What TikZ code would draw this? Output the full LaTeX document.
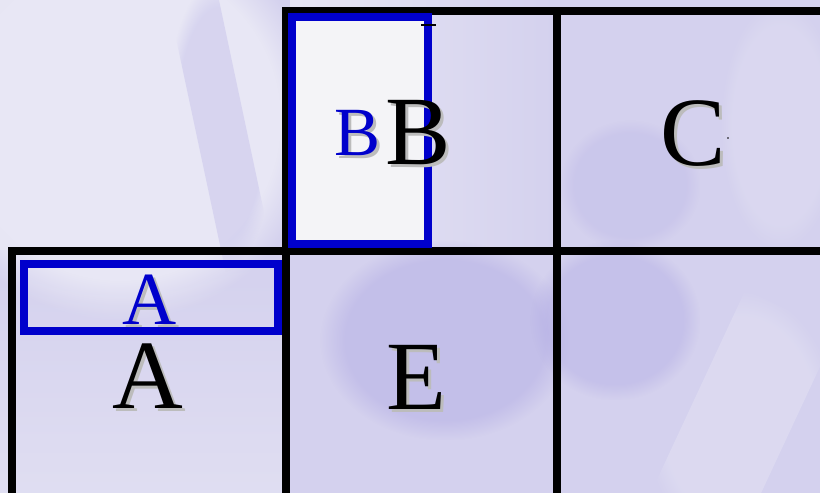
\documentclass[tikz,border=0pt]{standalone}
\usepackage{fontspec}
\setmainfont{Liberation Serif}
\usetikzlibrary{fadings}
\definecolor{bgbase}{RGB}{212,209,238}
\definecolor{bglight}{RGB}{232,231,245}
\definecolor{bgwhite}{RGB}{244,244,247}
\definecolor{bgdark}{RGB}{176,170,228}
\definecolor{bluec}{RGB}{0,0,204}
\definecolor{shadowgray}{RGB}{188,188,188}
\tikzset{
  gridline/.style={line width=7.5pt, black},
  bluebox/.style={draw=bluec, line width=8pt},
  bigletter/.style={inner sep=0pt, font=\fontsize{98}{98}\selectfont},
  blueletterB/.style={inner sep=0pt, font=\fontsize{69}{69}\selectfont, text=bluec},
  blueletterA/.style={inner sep=0pt, font=\fontsize{75}{75}\selectfont, text=bluec},
  shadowB/.style={inner sep=0pt, font=\fontsize{69}{69}\selectfont, text=shadowgray},
  shadowA/.style={inner sep=0pt, font=\fontsize{75}{75}\selectfont, text=shadowgray},
  shadowbig/.style={inner sep=0pt, font=\fontsize{98}{98}\selectfont, text=shadowgray},
  blob/.style={path fading=circle with fuzzy edge 20 percent},
}
\begin{document}
\begin{tikzpicture}[x=1pt,y=-1pt]
\useasboundingbox (0,0) rectangle (820,493);
% background
\fill[bgbase] (0,0) rectangle (820,493);
\fill[bglight, blob] (-80,-80) rectangle (320,320);
\fill[bglight, path fading=east] (0,0) rectangle (200,250);
\fill[bgdark, opacity=0.3, blob, rotate around={12:(220,125)}] (195,-20) rectangle (245,270);
\fill[bglight, path fading=east] (290,0) rectangle (560,250);
\fill[bgwhite] (296,21) rectangle (424,240);
\fill[bglight, opacity=0.6, path fading=north] (0,250) rectangle (290,493);
\fill[bgdark, opacity=0.45, blob] (320,240) rectangle (570,440);
\fill[bgdark, opacity=0.4, blob] (530,240) rectangle (700,400);
\fill[bgdark, opacity=0.25, blob] (560,120) rectangle (700,250);
\fill[bglight, opacity=0.4, blob, rotate around={-25:(740,420)}] (690,300) rectangle (790,540);
\fill[bglight, opacity=0.3, blob] (720,0) rectangle (840,250);
% grid
\draw[gridline] (282,11) -- (820,11);
\draw[gridline] (8,251) -- (820,251);
\draw[gridline] (286,7) -- (286,493);
\draw[gridline] (557,7) -- (557,493);
\draw[gridline] (12,247) -- (12,493);
% blue boxes
\draw[bluebox] (292,17) rectangle (428,244);
\draw[bluebox] (24,264) rectangle (278,331);
% small tick
\draw[black, line width=2pt] (421,25) -- (436,25);
% letters with shadows
\node[shadowB] (sB1) at (361,136) {B};
\node[blueletterB] (B1) at (358,133) {B};
\node[shadowbig] (sB2) at (421,136) {B};
\node[bigletter] (B2) at (418,133) {B};
\node[shadowbig] (sC) at (696,137) {C};
\node[bigletter] (C) at (693,134) {C};
\fill[black] (728,138) circle (0.8);
\node[shadowA] (sA1) at (153,303) {A};
\node[blueletterA] (A1) at (150,300) {A};
\node[shadowbig] (sA2) at (151,379) {A};
\node[bigletter] (A2) at (148,376) {A};
\node[shadowbig] (sE) at (419,380) {E};
\node[bigletter] (E) at (416,377) {E};
\end{tikzpicture}
\end{document}
